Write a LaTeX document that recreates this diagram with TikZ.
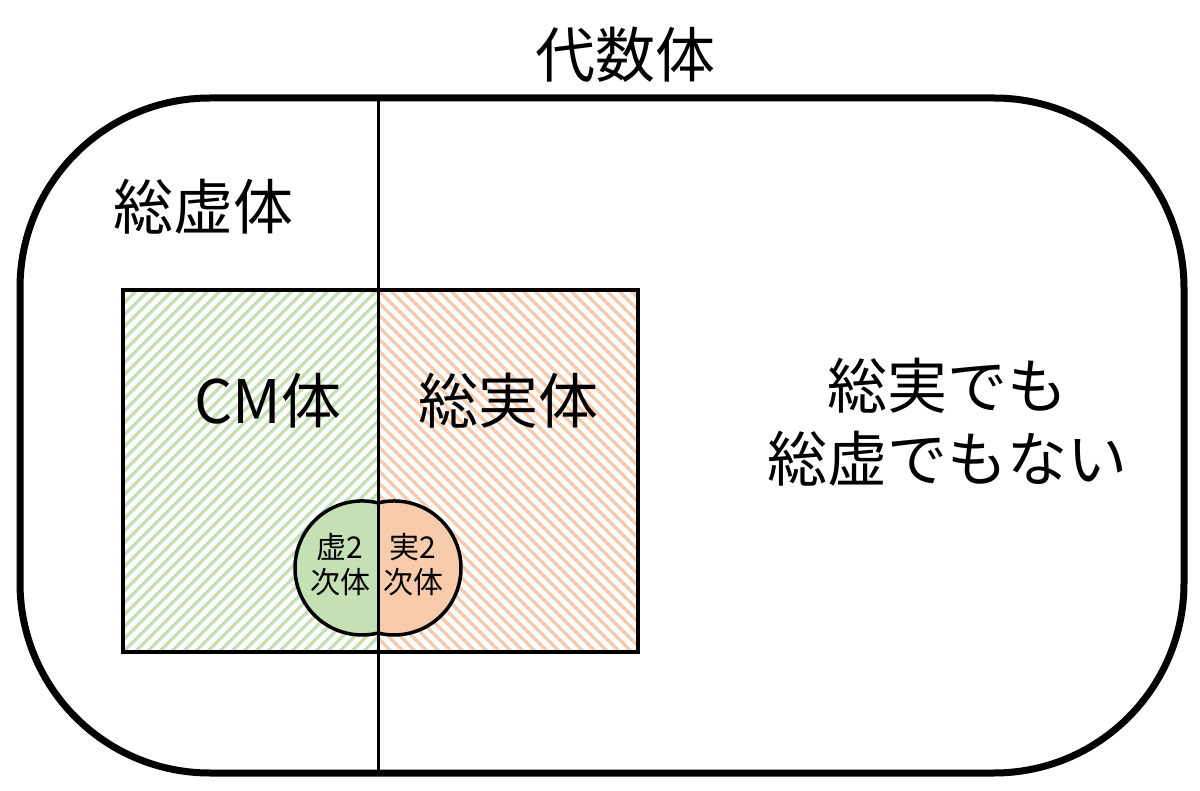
\documentclass[tikz,border=0pt]{standalone}
\usepackage{fontspec}
\setmainfont{Noto Sans CJK JP}
\definecolor{hgreen}{HTML}{C5E0B4}
\definecolor{horange}{HTML}{F8CBAD}
\tikzset{
  bigtext/.style={inner sep=0pt, align=center, font=\fontsize{60}{73}\selectfont},
  smalltext/.style={inner sep=0pt, align=center, font=\fontsize{30}{35}\selectfont},
  hatchline/.style={line width=3.3pt},
}
\begin{document}
\begin{tikzpicture}[x=1pt,y=-1pt]
\useasboundingbox (0,0) rectangle (1200,791);
% hatching left (green, north east lines)
\begin{scope}
  \clip (123,290) rectangle (378,652);
  \foreach \i in {-408,-396,...,300} {
    \draw[hgreen,hatchline] (123+\i,652) -- (123+\i+362,290);
  }
\end{scope}
% hatching right (orange, north west lines)
\begin{scope}
  \clip (378,290) rectangle (638,652);
  \foreach \i in {-408,-396,...,300} {
    \draw[horange,hatchline] (378+\i,290) -- (378+\i+362,652);
  }
\end{scope}
\node[draw, line width=3.5pt, minimum width=515pt, minimum height=362pt, inner sep=0pt] (rect) at (380.5,471) {};
% lens fill
\begin{scope}
  \clip (250,480) rectangle (378,660);
  \fill[hgreen] (362,568) circle[radius=67] (394,568) circle[radius=67];
\end{scope}
\begin{scope}
  \clip (378,480) rectangle (500,660);
  \fill[horange] (362,568) circle[radius=67] (394,568) circle[radius=67];
\end{scope}
\draw[line width=3.5pt] (378,502.9) arc[start angle=-76.2, end angle=-283.8, radius=67]
   arc[start angle=103.8, end angle=-103.8, radius=67] -- cycle;
% outer rounded rectangle
\draw[line width=7pt, rounded corners=190pt] (20,98) rectangle (1184,773);
\coordinate (vtop) at (378,98);
\coordinate (vbot) at (378,773);
\draw[line width=3pt] (vtop) -- (vbot);
% texts
\node[bigtext] (alg) at (625,55) {代数体};
\node[bigtext] (tki) at (203,207) {総虚体};
\node[bigtext] (cm) at (268,401) {CM体};
\node[bigtext] (tr) at (508,401) {総実体};
\node[bigtext] (neither) at (947,422) {総実でも\\総虚でもない};
\node[smalltext] (iq) at (340,565) {虚2\\次体};
\node[smalltext] (rq) at (413,565) {実2\\次体};
\end{tikzpicture}
\end{document}
